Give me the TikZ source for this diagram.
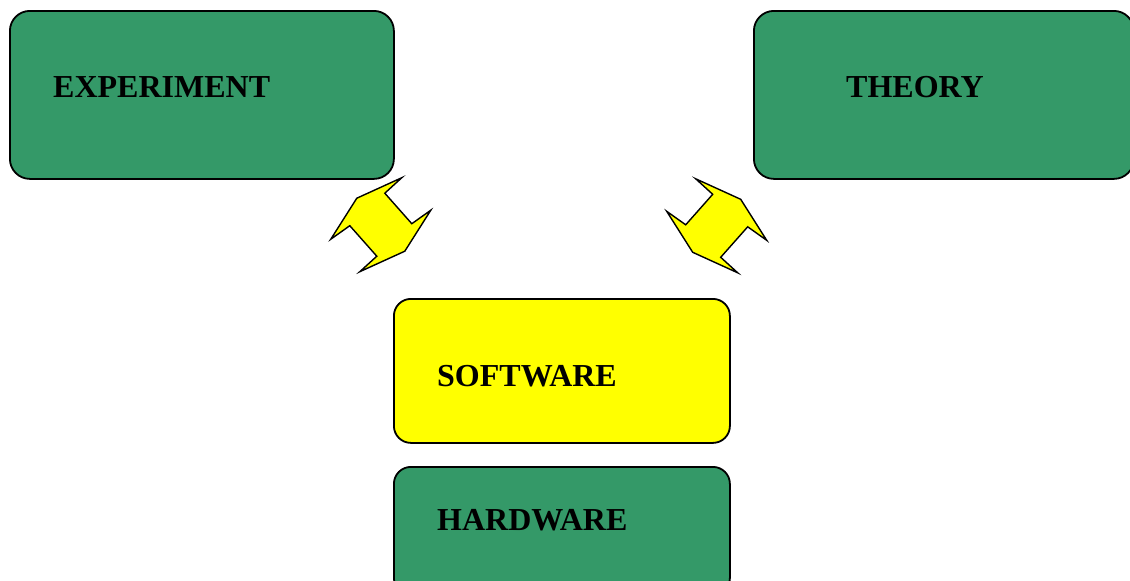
\documentclass[tikz,border=0pt]{standalone}
\usepackage{fontspec}
\setmainfont{Liberation Serif}
\definecolor{boxgreen}{RGB}{52,153,104}
\definecolor{boxyellow}{RGB}{255,255,0}
\begin{document}
\begin{tikzpicture}[x=1pt,y=-1pt,
  box/.style={draw=black, line width=1.8pt, fill=boxgreen, rounded corners=20pt, anchor=north west, inner sep=0pt},
  ybox/.style={box, fill=boxyellow, rounded corners=17pt},
  gbox/.style={box, rounded corners=17pt},
  lbl/.style={anchor=base west, inner sep=0pt, font=\bfseries\fontsize{32}{36}\selectfont},
  arrowstyle/.style={draw=black, fill=boxyellow, line width=1.4pt, line join=miter},
  dblarr/.pic={\draw[arrowstyle] (21,-47) -- (4,-31.5) -- (31,-1) -- (50,-14.5) -- (24,26.5)
     -- (-21,47) -- (-4,31.5) -- (-31,1) -- (-50,14.5) -- (-24,-26.5) -- cycle;}]
\useasboundingbox (0,0) rectangle (1130,581);
\clip (0,0) rectangle (1130,581);
\fill[white] (0,0) rectangle (1130,581);
% boxes
\node[box, minimum width=384pt, minimum height=168pt] (exp) at (9,10) {};
\node[box, minimum width=380pt, minimum height=168pt] (theo) at (753,10) {};
\node[ybox, minimum width=336pt, minimum height=144pt] (soft) at (393,298) {};
\node[gbox, minimum width=336pt, minimum height=128pt] (hard) at (393,466) {};
% labels
\node[lbl] (expl) at (53,97) {EXPERIMENT};
\node[lbl] (theol) at (846,97) {THEORY};
\node[lbl] (softl) at (437,386) {SOFTWARE};
\node[lbl] (hardl) at (437,530) {HARDWARE};
% double arrows
\pic (larr) at (380.8,224.7) {dblarr};
\pic[xscale=-1] (rarr) at (716.7,225.8) {dblarr};
\end{tikzpicture}
\end{document}
